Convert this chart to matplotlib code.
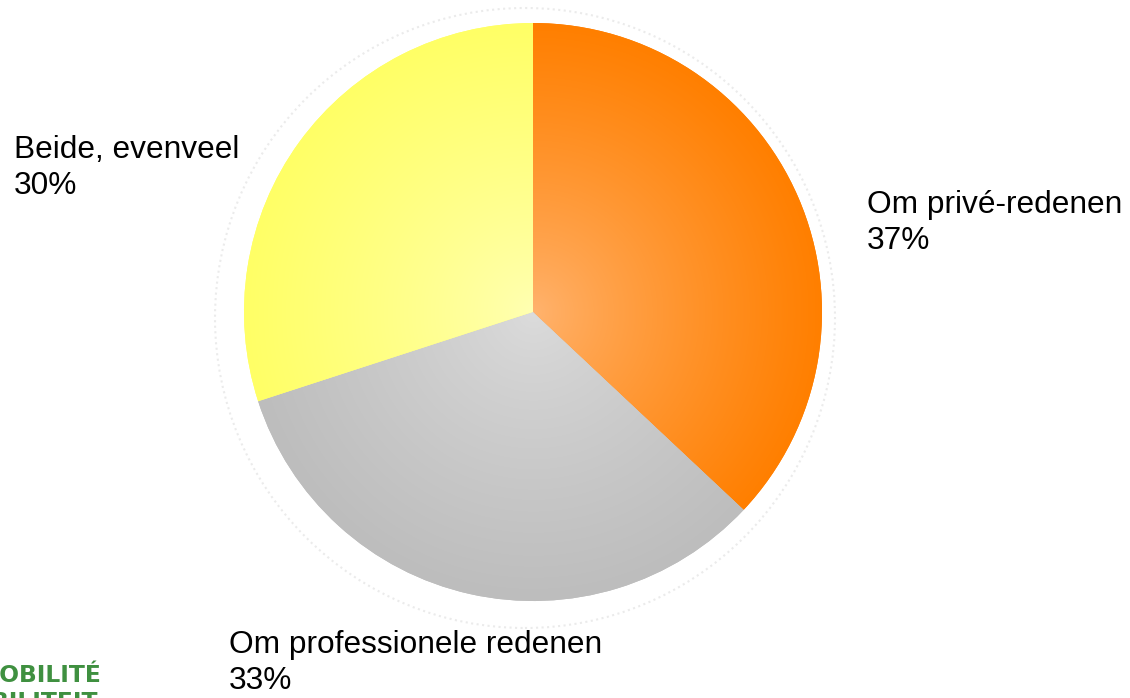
import numpy as np
import matplotlib
matplotlib.use("Agg")
import matplotlib.pyplot as plt
from matplotlib.colors import LinearSegmentedColormap

plt.rcParams['font.family'] = ['Liberation Sans', 'DejaVu Sans']

# data
labels = ['Om privé-redenen', 'Om professionele redenen', 'Beide, evenveel']
values = [37, 33, 30]
inner_colors = ['#FFB470', '#DCDCDC', '#FFFFB4']
outer_colors = ['#FF7F00', '#BDBDBD', '#FFFF66']

W, H = 1130, 698
fig = plt.figure(figsize=(W / 100, H / 100), dpi=100)
ax = fig.add_axes([0, 0, 1, 1])

cx, cy, r = 533, H - 312, 289

# faint dotted shadow ring behind the pie
ring = plt.Circle((525, H - 318), 310, facecolor='none',
                  edgecolor='#ebebeb', linewidth=1.5, linestyle=':', zorder=0)
ax.add_patch(ring)

wedges, _ = ax.pie(values, startangle=90, counterclock=False,
                   colors=outer_colors, center=(cx, cy), radius=r,
                   wedgeprops=dict(linewidth=0))

# radial gradient inside each wedge
yy, xx = np.mgrid[0:H, 0:W]
dist = np.hypot(xx - cx, (H - yy) - cy) / r
dist = np.clip(dist, 0, 1)
for w, c_in, c_out in zip(wedges, inner_colors, outer_colors):
    cmap = LinearSegmentedColormap.from_list('g', [c_in, c_out])
    im = ax.imshow(dist ** 0.8, cmap=cmap, extent=(0, W, 0, H),
                   origin='upper', zorder=2, vmin=0, vmax=1)
    im.set_clip_path(w)

ax.set_xlim(0, W)
ax.set_ylim(0, H)
ax.set_aspect('equal')
ax.axis('off')

# labels: (left x, baseline y of first line) in pixels from top-left
label_pos = [(867, 213), (229, 653), (14, 158)]
for name, val, (x, y) in zip(labels, values, label_pos):
    fig.text(x / W, 1 - y / H, name, fontsize=22.8,
             ha='left', va='baseline', color='black')
    fig.text(x / W, 1 - (y + 36) / H, f"{val}%", fontsize=22.8,
             ha='left', va='baseline', color='black')

# logo fragment, bottom left (partly cut off by the edge)
fig.text(102 / W, 1 - 682 / H, 'MOBILITÉ', fontsize=16.8, fontweight='bold',
         family='DejaVu Sans', color='#3F9040', ha='right', va='baseline')
fig.text(98 / W, 1 - 709 / H, 'MOBILITEIT', fontsize=16.8, fontweight='bold',
         family='DejaVu Sans', color='#3F9040', ha='right', va='baseline')

fig.savefig('out.png', dpi=100)
